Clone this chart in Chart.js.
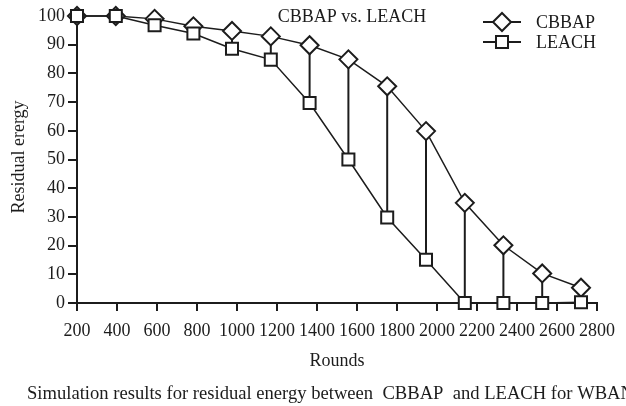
<!DOCTYPE html>
<html>
<head>
<meta charset="utf-8">
<script src="https://cdn.jsdelivr.net/npm/chart.js@4.4.1/dist/chart.umd.min.js"></script>
<style>
  body { margin: 0; background: #fff; }
  #wrap { width: 626px; height: 406px; }
</style>
</head>
<body>
<div id="wrap"><canvas id="energyChart" width="626" height="406"></canvas></div>
<script>
  // values
  const rounds = [200, 394, 588, 782, 975, 1169, 1363, 1557, 1751, 1945, 2139, 2332, 2526, 2720];
  const cbbap = [100, 100, 99, 96.4, 94.8, 92.9, 89.8, 84.9, 75.5, 59.9, 34.9, 20.1, 10.3, 5.3];
  const leach = [100, 100, 96.8, 93.9, 88.6, 84.8, 69.7, 50, 29.8, 15.1, 0, 0, 0, 0.3];
  const xTicks = [200, 400, 600, 800, 1000, 1200, 1400, 1600, 1800, 2000, 2200, 2400, 2600, 2800];
  const yTicks = [0, 10, 20, 30, 40, 50, 60, 70, 80, 90, 100];

  const ink = '#1c1c1c';
  const serif = "'Liberation Serif', 'DejaVu Serif', serif";

  // vertical lines joining the two series at each round
  const dropLines = {
    id: 'dropLines',
    beforeDatasetsDraw(chart) {
      const a = chart.getDatasetMeta(0).data;
      const b = chart.getDatasetMeta(1).data;
      const ctx = chart.ctx;
      ctx.save();
      ctx.strokeStyle = ink;
      ctx.lineWidth = 2;
      for (let i = 0; i < a.length; i++) {
        ctx.beginPath();
        ctx.moveTo(a[i].x, a[i].y);
        ctx.lineTo(b[i].x, b[i].y);
        ctx.stroke();
      }
      ctx.restore();
    }
  };

  // title, legend and axis texts
  const texts = {
    id: 'texts',
    afterDraw(chart) {
      const ctx = chart.ctx;
      const area = chart.chartArea;
      ctx.save();
      ctx.fillStyle = ink;
      ctx.font = '18px ' + serif;
      ctx.textBaseline = 'alphabetic';

      ctx.textAlign = 'center';
      ctx.fillText('CBBAP vs. LEACH', 352, 22);
      ctx.fillText('Rounds', (area.left + area.right) / 2, 366);

      ctx.textAlign = 'left';
      ctx.font = '18.6px ' + serif;
      ctx.fillText('Simulation results for residual energy between  CBBAP  and LEACH for WBAN', 27, 399);
      ctx.font = '18px ' + serif;

      // legend
      const items = [
        { label: 'CBBAP', style: 'rectRot', r: 9, y: 22, base: 28 },
        { label: 'LEACH', style: 'rect', r: 8.5, y: 42, base: 48 }
      ];
      items.forEach(it => {
        ctx.strokeStyle = ink;
        ctx.lineWidth = 2;
        ctx.beginPath();
        ctx.moveTo(483, it.y);
        ctx.lineTo(521, it.y);
        ctx.stroke();
        ctx.fillStyle = '#fff';
        Chart.helpers.drawPoint(ctx, { pointStyle: it.style, radius: it.r, borderWidth: 2 }, 502, it.y);
        ctx.fillStyle = ink;
        ctx.fillText(it.label, 536, it.base);
      });

      // y axis title
      ctx.translate(24, 157);
      ctx.rotate(-Math.PI / 2);
      ctx.textAlign = 'center';
      ctx.fillText('Residual erergy', 0, 0);
      ctx.restore();
    }
  };

  const ctx = document.getElementById('energyChart').getContext('2d');

  const chart = new Chart(ctx, {
    type: 'line',
    data: {
      datasets: [
        {
          label: 'LEACH',
          data: rounds.map((r, i) => ({ x: r, y: leach[i] })),
          borderColor: ink,
          borderWidth: 1.5,
          backgroundColor: '#fff',
          pointStyle: 'rect',
          pointRadius: 8.5,
          pointBorderWidth: 2,
          pointBorderColor: ink,
          pointBackgroundColor: '#fff',
          tension: 0,
          clip: false,
          order: 1
        },
        {
          label: 'CBBAP',
          data: rounds.map((r, i) => ({ x: r, y: cbbap[i] })),
          borderColor: ink,
          borderWidth: 1.5,
          backgroundColor: '#fff',
          pointStyle: 'rectRot',
          pointRadius: 9,
          pointBorderWidth: 2,
          pointBorderColor: ink,
          pointBackgroundColor: '#fff',
          tension: 0,
          clip: false,
          order: 2
        }
      ]
    },
    options: {
      responsive: false,
      animation: false,
      layout: { padding: { left: 0, right: 29, top: 16, bottom: 0 } },
      plugins: {
        legend: { display: false },
        title: { display: false },
        tooltip: { enabled: false }
      },
      scales: {
        x: {
          type: 'linear',
          min: 200,
          max: 2800,
          afterBuildTicks: s => { s.ticks = xTicks.map(v => ({ value: v })); },
          afterFit: s => { s.height = 103; },
          border: { display: true, color: ink, width: 2 },
          grid: { drawOnChartArea: false, drawTicks: true, tickLength: 8, color: ink, lineWidth: 2 },
          ticks: {
            color: ink,
            font: { family: serif, size: 18 },
            padding: 9,
            maxRotation: 0,
            autoSkip: false,
            callback: v => String(v)
          }
        },
        y: {
          min: 0,
          max: 100,
          afterBuildTicks: s => { s.ticks = yTicks.map(v => ({ value: v })); },
          afterFit: s => { s.width = 77; },
          border: { display: true, color: ink, width: 2 },
          grid: { drawOnChartArea: false, drawTicks: true, tickLength: 9, color: ink, lineWidth: 2 },
          ticks: {
            color: ink,
            font: { family: serif, size: 18 },
            padding: 3
          }
        }
      }
    },
    plugins: [dropLines, texts]
  });
</script>
</body>
</html>
